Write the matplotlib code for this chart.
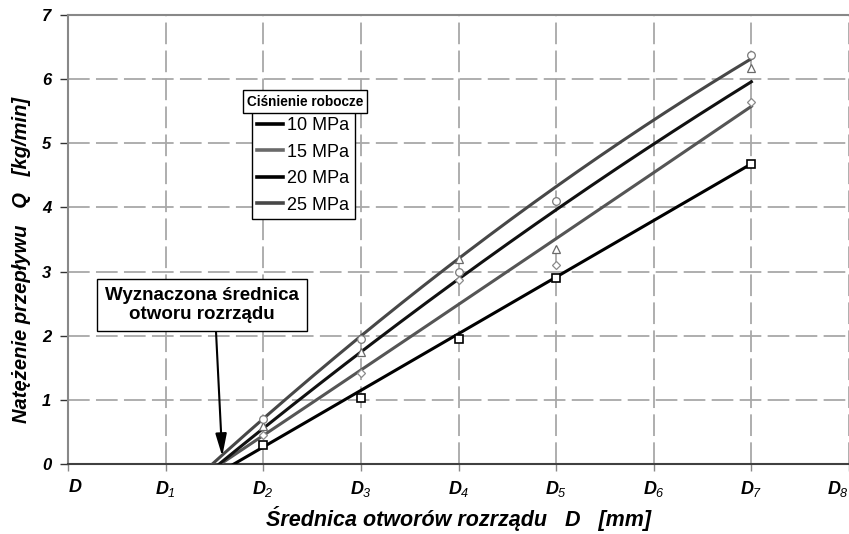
import numpy as np
import matplotlib
matplotlib.use("Agg")
import matplotlib.pyplot as plt
from matplotlib.lines import Line2D

plt.rcParams['font.family'] = ['Liberation Sans', 'DejaVu Sans']
plt.rcParams['mathtext.fontset'] = 'custom'
plt.rcParams['mathtext.it'] = 'Liberation Sans:italic:bold'
plt.rcParams['mathtext.rm'] = 'Liberation Sans:italic'
plt.rcParams['mathtext.bf'] = 'Liberation Sans:italic:bold'

# measured points (x = index of the D tick)
x_pts = [2, 3, 4, 5, 7]
q10 = [0.30, 1.03, 1.95, 2.90, 4.68]
q15 = [0.45, 1.42, 2.87, 3.10, 5.65]
q20 = [0.60, 1.75, 3.20, 3.35, 6.18]
q25 = [0.70, 1.95, 3.00, 4.10, 6.38]

# trend lines (start at Q = 0)
t10_x = [1.70, 7.0]
t10_y = [0.0, 4.68]
t15_x = [1.57, 3.0, 5.0, 7.0]
t15_y = [0.0, 1.48, 3.50, 5.58]
t20_x = [1.55, 3.0, 5.0, 7.0]
t20_y = [0.0, 1.75, 3.96, 5.96]
t25_x = [1.48, 3.0, 5.0, 7.0]
t25_y = [0.0, 2.00, 4.32, 6.32]

labels = ['10 MPa', '15 MPa', '20 MPa', '25 MPa']
tick_names = ['$D$', '$D_{1}$', '$D_{2}$', '$D_{3}$', '$D_{4}$',
              '$D_{5}$', '$D_{6}$', '$D_{7}$', '$D_{8}$']

fig = plt.figure(figsize=(8.49, 5.34), dpi=100)
ax = fig.add_axes([68/849, 1-464/534, 1-68/849, (464-15)/534])

# series: points, trend x, trend y, line colour, marker, marker edge, legend colour
series = [
    (q10, t10_x, t10_y, '#000000', 's', '#000000', '#000000'),
    (q15, t15_x, t15_y, '#555555', 'D', '#8a8a8a', '#6a6a6a'),
    (q20, t20_x, t20_y, '#111111', '^', '#6a6a6a', '#000000'),
    (q25, t25_x, t25_y, '#474747', 'o', '#7a7a7a', '#474747'),
]

for vals, tx, ty, col, mk, mec, lc in series:
    deg = min(2, len(tx) - 1)
    coef = np.polyfit(tx, ty, deg)
    xs = np.linspace(tx[0] - 0.1, tx[-1], 200)
    ax.plot(xs, np.polyval(coef, xs), color=col, lw=2.2, zorder=3)
    ms = 5.5 if mk == 's' else (4 if mk == 'D' else 5.5)
    ax.plot(x_pts, vals, linestyle='none', marker=mk, ms=ms, mfc='white',
            mec=mec, mew=1.2 if mk == 's' else 0.9, zorder=4)

ax.set_xlim(0, 8)
ax.set_ylim(0, 7)
ax.set_xticks(range(9))
ax.set_xticklabels(tick_names, fontsize=13)
tl = ax.get_xticklabels()
tl[0].set_ha('left')
tl[-1].set_ha('right')
ax.set_yticks(range(8))
ax.set_yticklabels([str(v) for v in range(8)], fontsize=12,
                   fontweight='bold', fontstyle='italic')
ax.tick_params(axis='x', length=5, width=1, color='#888888', pad=6)
ax.tick_params(axis='y', length=6, width=1, color='#333333', pad=6)

ax.grid(True, color='#a8a8a8', lw=1.3, linestyle=(0, (12, 3.5)))
ax.set_axisbelow(True)
ax.spines['right'].set_visible(False)
ax.spines['top'].set_color('#888888')
ax.spines['top'].set_linewidth(1.5)
ax.spines['left'].set_color('#888888')
ax.spines['left'].set_linewidth(1.5)
ax.spines['bottom'].set_color('#404040')
ax.spines['bottom'].set_linewidth(1.5)

ax.set_xlabel('Średnica otworów rozrządu   D   [mm]', fontsize=15.5,
              fontweight='bold', fontstyle='italic', labelpad=5)
ax.set_ylabel('Natężenie przepływu   Q   [kg/min]', fontsize=14.5,
              fontweight='bold', fontstyle='italic')
ax.yaxis.set_label_coords(-0.048, 0.455)

handles = [Line2D([], [], color=s[6], lw=2.6) for s in series]
leg = ax.legend(handles, labels, loc='upper left',
                bbox_to_anchor=(252/849, 1-112/534), bbox_transform=fig.transFigure,
                fontsize=13, frameon=True, fancybox=False, edgecolor='black',
                framealpha=1, handlelength=1.4, handletextpad=0.25,
                labelspacing=0.52, borderpad=0.3, borderaxespad=0)
leg.get_frame().set_linewidth(1)
leg.set_zorder(6)

fig.text(305/849, 1-101.5/534, 'Ciśnienie robocze', fontsize=9.8,
         fontweight='bold', ha='center', va='center', zorder=7,
         bbox=dict(boxstyle='square,pad=0.3', fc='white', ec='black', lw=1))

ax.annotate('Wyznaczona średnica\notworu rozrządu', xy=(1.58, 0.12),
            xytext=(202, 534-305), textcoords='figure pixels',
            ha='center', va='center', fontsize=13.5, fontweight='bold',
            linespacing=1.15, zorder=7,
            bbox=dict(boxstyle='square,pad=0.42', fc='white', ec='black', lw=1),
            arrowprops=dict(arrowstyle='-|>,head_length=1.0,head_width=0.25',
                            color='black', lw=1.5, relpos=(0.57, 0),
                            shrinkA=0, shrinkB=0))

fig.savefig('out.png', dpi=100)
